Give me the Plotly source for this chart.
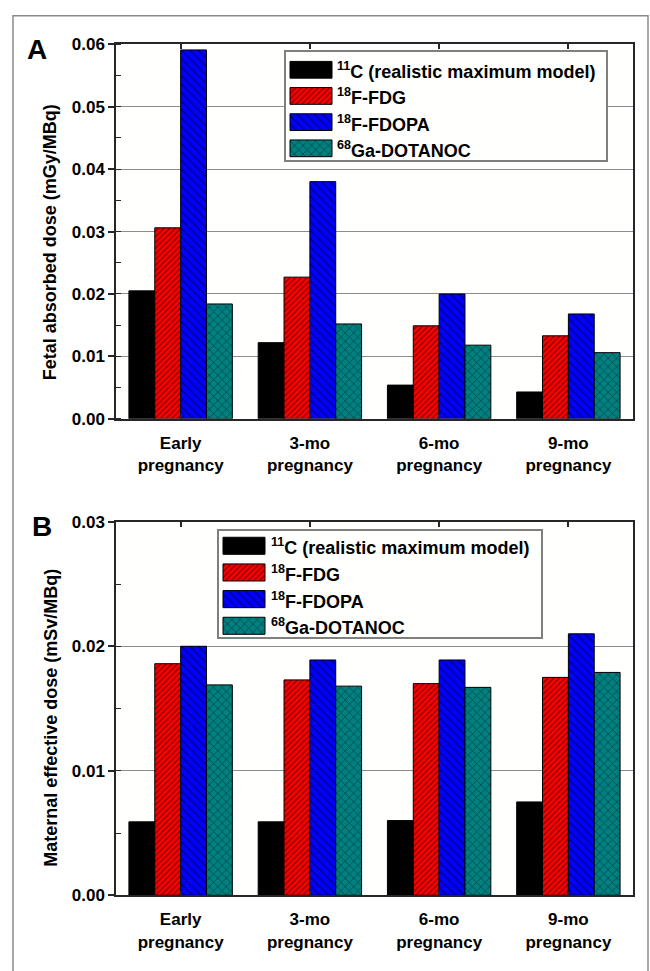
import plotly.graph_objects as go

# ---------------- data ----------------
categories = ["Early pregnancy", "3-mo pregnancy", "6-mo pregnancy", "9-mo pregnancy"]
category_labels = ["Early<br>pregnancy", "3-mo<br>pregnancy", "6-mo<br>pregnancy", "9-mo<br>pregnancy"]
series_names = [
    "<sup>11</sup>C (realistic maximum model)",
    "<sup>18</sup>F-FDG",
    "<sup>18</sup>F-FDOPA",
    "<sup>68</sup>Ga-DOTANOC",
]

fetal_c11 = [0.0205, 0.0122, 0.0054, 0.0043]
fetal_fdg = [0.0306, 0.0227, 0.0149, 0.0133]
fetal_fdopa = [0.0591, 0.0380, 0.0200, 0.0168]
fetal_ga = [0.0184, 0.0152, 0.0118, 0.0106]

maternal_c11 = [0.0059, 0.0059, 0.0060, 0.0075]
maternal_fdg = [0.0186, 0.0173, 0.0170, 0.0175]
maternal_fdopa = [0.0200, 0.0189, 0.0189, 0.0210]
maternal_ga = [0.0169, 0.0168, 0.0167, 0.0179]

fetal_ticks = [0.00, 0.01, 0.02, 0.03, 0.04, 0.05, 0.06]
maternal_ticks = [0.00, 0.01, 0.02, 0.03]

fetal_title = "Fetal absorbed dose (mGy/MBq)"
maternal_title = "Maternal effective dose (mSv/MBq)"

# ---------------- styles ----------------
W, H = 650, 971
FONT = "Liberation Sans, Arial, sans-serif"
AXC = "#262626"
GRID = "#8c8c8c"

styles = [
    dict(color="black"),
    dict(color="#ff0000", pattern=dict(shape="/", fgcolor="black", size=4, solidity=0.3, fillmode="overlay")),
    dict(color="#0000ff", pattern=dict(shape="\\", fgcolor="black", size=6, solidity=0.22, fillmode="overlay")),
    dict(color="#008080", pattern=dict(shape="x", fgcolor="black", size=6, solidity=0.22, fillmode="overlay")),
]


def px_x(v):
    return v / W


def px_y(v):
    return 1 - v / H


# panel geometry (pixels)
PX0, PX1 = 116, 633
A_TOP, A_BOT = 36, 418
B_TOP, B_BOT = 523, 904

fig = go.Figure()

fetal = [fetal_c11, fetal_fdg, fetal_fdopa, fetal_ga]
maternal = [maternal_c11, maternal_fdg, maternal_fdopa, maternal_ga]

for i, vals in enumerate(fetal):
    m = dict(styles[i]); m["line"] = dict(color="black", width=1)
    fig.add_trace(go.Bar(x=categories, y=vals, marker=m, xaxis="x", yaxis="y",
                         showlegend=False, name=series_names[i]))
for i, vals in enumerate(maternal):
    m = dict(styles[i]); m["line"] = dict(color="black", width=1)
    fig.add_trace(go.Bar(x=categories, y=vals, marker=m, xaxis="x2", yaxis="y2",
                         showlegend=False, name=series_names[i]))

# ---------------- custom legends (swatch keys in their own boxed subplot) ----------------
legend_rows = [0, 1, 2, 3]
SW_INSET, SW_W = 4, 42          # swatch inset from box edge, swatch width (px)
legA = dict(box=(286, 44, 606, 154), row0=62, step=26.7, text_x=335)
legB = dict(box=(219, 532, 541, 641), row0=547.5, step=27.2, text_x=269)

for (xa, ya), leg in [(("x3", "y3"), legA), (("x4", "y4"), legB)]:
    for i in legend_rows:
        m = dict(styles[i]); m["line"] = dict(color="black", width=1)
        fig.add_trace(go.Bar(x=[1], y=[i], base=0, orientation="h", width=[0.64],
                             marker=m, xaxis=xa, yaxis=ya, showlegend=False,
                             hoverinfo="skip"))

axis_common = dict(showline=True, linecolor=AXC, linewidth=1.5, zeroline=False)


def xaxis_cfg(anchor, domain):
    return dict(axis_common, anchor=anchor, domain=domain, type="category",
                range=[-0.5, 3.5], mirror="ticks", ticks="inside", ticklen=5,
                tickcolor=AXC, tickwidth=1.5, tickvals=categories, ticktext=category_labels,
                tickfont=dict(size=17, color="black"), showgrid=False, ticklabelstandoff=8)


def yaxis_cfg(anchor, domain, rng, ticks):
    return dict(axis_common, anchor=anchor, domain=domain, range=rng, mirror=True,
                tickvals=ticks, tickformat=".2f", ticks="outside", ticklen=6,
                tickcolor=AXC, tickwidth=1.5, tickfont=dict(size=17, color="black"),
                showgrid=True, gridcolor=GRID, gridwidth=1.2,
                minor=dict(dtick=0.005, ticks="inside", ticklen=5, tickcolor=AXC,
                           tickwidth=1.2, showgrid=False))


def yaxis_right(over, anchor, rng):
    return dict(overlaying=over, side="right", anchor=anchor,
                range=rng, showticklabels=False, ticks="", showgrid=False, showline=False,
                zeroline=False, tickvals=[],
                minor=dict(dtick=0.005, ticks="inside", ticklen=5, tickcolor=AXC,
                           tickwidth=1.2, showgrid=False))


xdom = [px_x(PX0), px_x(PX1)]
layout = dict(
    width=W, height=H, margin=dict(l=0, r=0, t=0, b=0),
    paper_bgcolor="#ffffff", plot_bgcolor="#fffffe",
    font=dict(family=FONT, weight="bold", color="black"),
    barmode="group", bargap=0.2, bargroupgap=0,
    xaxis=xaxis_cfg("y", xdom),
    yaxis=yaxis_cfg("x", [px_y(A_BOT), px_y(A_TOP)], [0, 0.06], fetal_ticks),
    xaxis2=xaxis_cfg("y2", xdom),
    yaxis2=yaxis_cfg("x2", [px_y(B_BOT), px_y(B_TOP)], [0, 0.03], maternal_ticks),
    yaxis5=yaxis_right("y", "x", [0, 0.06]),
    yaxis6=yaxis_right("y2", "x2", [0, 0.03]),
)

for xa, ya, leg in [("xaxis3", "yaxis3", legA), ("xaxis4", "yaxis4", legB)]:
    bx0, by0, bx1, by1 = leg["box"]
    bw, bh = bx1 - bx0, by1 - by0
    r0, step = leg["row0"], leg["step"]
    box_line = dict(showline=True, mirror=True, linecolor="#7f7f7f", linewidth=1.5,
                    showticklabels=False, ticks="", showgrid=False, zeroline=False,
                    fixedrange=True)
    layout[xa] = dict(box_line, domain=[px_x(bx0), px_x(bx1)],
                      range=[-SW_INSET / SW_W, (bw - SW_INSET) / SW_W],
                      anchor=ya.replace("axis", ""))
    layout[ya] = dict(box_line, domain=[px_y(by1), px_y(by0)],
                      range=[(by1 - r0) / step, -(r0 - by0) / step],
                      anchor=xa.replace("axis", ""))

fig.update_layout(**layout)

shapes = []
annotations = []

for leg in (legA, legB):
    for i, name in enumerate(series_names):
        annotations.append(dict(text=name, xref="paper", yref="paper",
                                x=px_x(leg["text_x"]), y=px_y(leg["row0"] + i * leg["step"] + 1),
                                xanchor="left", yanchor="middle", showarrow=False,
                                font=dict(size=18, family=FONT, weight="bold")))

# outer frame
shapes.append(dict(type="rect", xref="paper", yref="paper", layer="above",
                   x0=px_x(13), x1=px_x(648), y0=px_y(990), y1=px_y(7),
                   line=dict(color="#8a8a8a", width=1.5)))

# panel letters
annotations.append(dict(text="A", xref="paper", yref="paper", x=px_x(37), y=px_y(41),
                        showarrow=False, xanchor="center", yanchor="middle",
                        font=dict(size=28, family=FONT, weight="bold")))
annotations.append(dict(text="B", xref="paper", yref="paper", x=px_x(42), y=px_y(528),
                        showarrow=False, xanchor="center", yanchor="middle",
                        font=dict(size=28, family=FONT, weight="bold")))
# y-axis titles
annotations.append(dict(text=fetal_title, xref="paper", yref="paper", x=px_x(50), y=px_y(238),
                        showarrow=False, textangle=-90, xanchor="center", yanchor="middle",
                        font=dict(size=18, family=FONT, weight="bold")))
annotations.append(dict(text=maternal_title, xref="paper", yref="paper", x=px_x(51), y=px_y(723),
                        showarrow=False, textangle=-90, xanchor="center", yanchor="middle",
                        font=dict(size=18, family=FONT, weight="bold")))

fig.update_layout(shapes=shapes, annotations=annotations)
fig.write_html("out.html")
